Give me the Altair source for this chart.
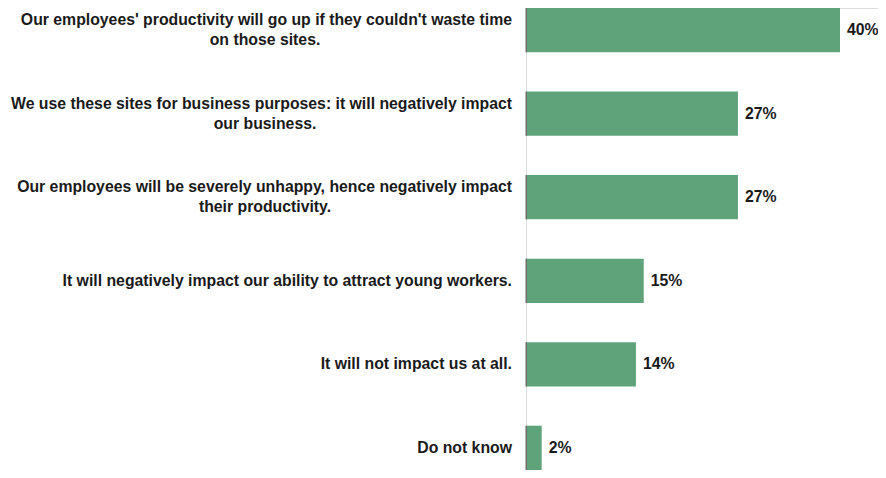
import altair as alt
import pandas as pd

line1 = [
    "Our employees' productivity will go up if they couldn't waste time",
    "We use these sites for business purposes: it will negatively impact",
    "Our employees will be severely unhappy, hence negatively impact",
    "It will negatively impact our ability to attract  young workers.",
    "It will not impact us at all.",
    "Do not know",
]
line2 = ["on those sites.", "our business.", "their productivity.", "", "", ""]
values = [40, 27, 27, 15, 14, 2]
labels = ["40%", "27%", "27%", "15%", "14%", "2%"]

df = pd.DataFrame({
    "cat": [f"c{i}" for i in range(len(values))],
    "line1": line1,
    "line2": line2,
    "value": values,
    "label": labels,
})
df["two"] = df["line2"] != ""

order = list(df["cat"])
FONT = "Liberation Sans"
GREEN = "#5fa37b"
TXT = "#1a1a1a"
FS = 15.8

y = alt.Y("cat:N", sort=order, axis=None,
          scale=alt.Scale(paddingInner=0.47, paddingOuter=0.0))
x = alt.X("value:Q", axis=None,
          scale=alt.Scale(domain=[0, 44.84], nice=False, zero=True))

base = alt.Chart(df)

bars = base.mark_bar(color=GREEN).encode(x=x, y=y)

edge = base.mark_bar(color="#6e6e6e").encode(
    x=alt.value(-0.5), x2=alt.value(1), y=y)

vals = base.mark_text(align="left", baseline="middle", dx=7, font=FONT,
                      fontWeight="bold", fontSize=15.8, color=TXT).encode(
    x=x, y=y, text="label:N")

single = base.transform_filter("!datum.two").mark_text(
    align="right", baseline="middle", font=FONT, fontWeight="bold",
    fontSize=FS, color=TXT).encode(
    x=alt.value(-14), y=y, text="line1:N")

first = base.transform_filter("datum.two").mark_text(
    align="right", baseline="middle", dy=-10, font=FONT, fontWeight="bold",
    fontSize=FS, color=TXT).encode(
    x=alt.value(-14), y=y, text="line1:N")

second = base.transform_filter("datum.two").mark_text(
    align="center", baseline="middle", dy=10, font=FONT, fontWeight="bold",
    fontSize=FS, color=TXT).encode(
    x=alt.value(-261), y=y, text="line2:N")

chart = alt.layer(bars, edge, vals, single, first, second).properties(
    width=352, height=462,
    autosize=alt.AutoSizeParams(type="none"),
    padding={"left": 518, "top": 0, "right": 0, "bottom": 0},
).configure_view(stroke=None).configure(background="white")

chart.save("out.html", embed_options={"renderer": "svg", "actions": False})
